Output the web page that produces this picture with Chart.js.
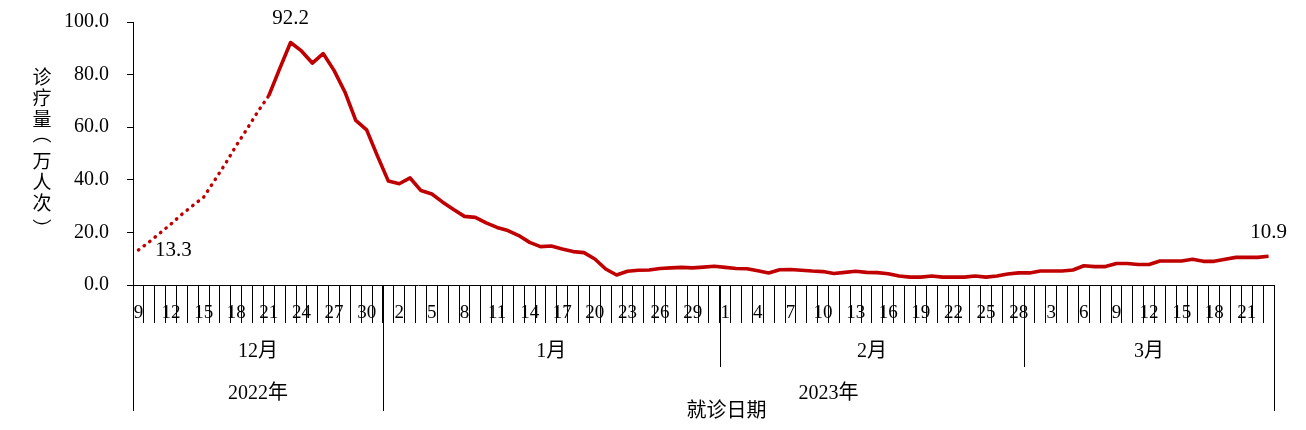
<!DOCTYPE html>
<html>
<head>
<meta charset="utf-8">
<script src="https://cdn.jsdelivr.net/npm/chart.js@4.4.1/dist/chart.umd.min.js"></script>
<style>
  html, body { margin: 0; padding: 0; background: #ffffff; }
  #wrap { width: 1306px; height: 430px; position: relative; }
</style>
</head>
<body>
<div id="wrap"><canvas id="c" width="1306" height="430"></canvas></div>
<script>
// ---------------- data ----------------
const decDays = [9,10,11,12,13,14,15,16,17,18,19,20,21,22,23,24,25,26,27,28,29,30,31];
const janDays = [1,2,3,4,5,6,7,8,9,10,11,12,13,14,15,16,17,18,19,20,21,22,23,24,25,26,27,28,29,30,31];
const febDays = [1,2,3,4,5,6,7,8,9,10,11,12,13,14,15,16,17,18,19,20,21,22,23,24,25,26,27,28];
const marDays = [1,2,3,4,5,6,7,8,9,10,11,12,13,14,15,16,17,18,19,20,21,22,23];

const decValues = [13.3,16.4,19.8,23.2,26.9,30.2,33.4,39.7,46.1,53.0,59.4,66.0,72.0,82.3,92.2,89.0,84.4,88.0,81.6,73.4,62.6,59.0,49.0];
const janValues = [39.5,38.5,40.7,35.9,34.6,31.5,28.7,26.1,25.7,23.6,21.9,20.7,18.8,16.2,14.6,14.8,13.7,12.7,12.3,9.9,6.1,3.8,5.2,5.6,5.7,6.3,6.5,6.7,6.5,6.8,7.1];
const febValues = [6.7,6.3,6.2,5.4,4.6,5.8,5.9,5.6,5.3,5.1,4.4,4.8,5.2,4.8,4.7,4.3,3.4,3.0,3.0,3.4,3.0,3.0,3.0,3.4,3.0,3.4,4.2,4.6];
const marValues = [4.6,5.3,5.3,5.3,5.7,7.3,7.0,7.0,8.2,8.2,7.8,7.8,9.1,9.1,9.1,9.8,9.0,9.0,9.8,10.5,10.5,10.5,10.9];

const monthLabels = ['12月', '1月', '2月', '3月'];
const monthYearIndex = [0, 1, 1, 1];
const yearLabels = ['2022年', '2023年'];
const yTitleText = '诊疗量（万人次）';
const xTitleText = '就诊日期';
const yTicks = [0, 20, 40, 60, 80, 100];
const dottedLastIndex = 12;      // dotted (estimated) part ends at Dec 21
const annotatedIndices = [0, 14, 104];

const monthDays = [decDays, janDays, febDays, marDays];
const categories = [].concat(decDays, janDays, febDays, marDays).map(String);
const values = [].concat(decValues, janValues, febValues, marValues);

// ---------------- style ----------------
const RED = '#C00000';
const SERIF = '"Liberation Serif", "Times New Roman", "Noto Sans CJK SC", serif';
const CJK = '"Noto Sans CJK SC", "Liberation Serif", sans-serif';
const verticalForms = { '（': ['︵', -6], '）': ['︶', 5.5] };

const groupPlugin = {
  id: 'groupAxis',
  afterDraw(chart) {
    const ctx = chart.ctx;
    const xs = chart.scales.x;
    const ys = chart.scales.y;
    const half = (xs.getPixelForValue(1) - xs.getPixelForValue(0)) / 2;
    const axisY = ys.getPixelForValue(0);
    ctx.save();
    ctx.strokeStyle = '#000';
    ctx.lineWidth = 1;
    ctx.fillStyle = '#000';
    ctx.textAlign = 'center';
    ctx.textBaseline = 'middle';

    // months
    let start = 0;
    const monthBounds = [];
    monthDays.forEach((days, m) => {
      const end = start + days.length - 1;
      const left = xs.getPixelForValue(start) - half;
      const right = xs.getPixelForValue(end) + half;
      monthBounds.push([left, right, start, end]);
      ctx.font = '20px ' + SERIF;
      ctx.fillText(monthLabels[m], (left + right) / 2, axisY + 67);
      start = end + 1;
    });
    // years
    yearLabels.forEach((yl, yi) => {
      const ms = monthBounds.filter((b, m) => monthYearIndex[m] === yi);
      const left = ms[0][0];
      const right = ms[ms.length - 1][1];
      ctx.font = '20px ' + SERIF;
      ctx.fillText(yl, (left + right) / 2, axisY + 109);
    });
    // separators
    const line = (x, y0, y1) => {
      const px = Math.round(x) + 0.5;
      ctx.beginPath();
      ctx.moveTo(px, y0);
      ctx.lineTo(px, y1);
      ctx.stroke();
    };
    monthBounds.forEach((b, m) => {
      const isYearStart = m === 0 || monthYearIndex[m] !== monthYearIndex[m - 1];
      line(b[0], axisY, axisY + (isYearStart ? 126 : 82));
    });
    line(monthBounds[monthBounds.length - 1][1], axisY, axisY + 126);

    // x title
    ctx.font = '20px ' + CJK;
    ctx.fillText(xTitleText, (chart.chartArea.left + chart.chartArea.right) / 2 + 23, axisY + 124);

    // y title (stacked characters, vertical layout)
    ctx.font = '19px ' + CJK;
    Array.from(yTitleText).forEach((ch, k) => {
      const vf = verticalForms[ch];
      const y = 76.5 + k * 21;
      if (vf) ctx.fillText(vf[0], 42, y + vf[1]);
      else ctx.fillText(ch, 42, y);
    });

    // value labels
    ctx.font = '21px ' + SERIF;
    annotatedIndices.forEach((i) => {
      const px = xs.getPixelForValue(i);
      const py = ys.getPixelForValue(values[i]);
      let dx = 0, dy = -24;
      if (i === 0) { dx = 35; dy = 0; }
      ctx.fillText(values[i].toFixed(1), px + dx, py + dy);
    });
    ctx.restore();
  }
};

new Chart(document.getElementById('c'), {
  type: 'line',
  data: {
    labels: categories,
    datasets: [{
      data: values,
      borderColor: RED,
      borderWidth: 3.6,
      borderJoinStyle: 'round',
      pointRadius: 0,
      pointHoverRadius: 0,
      tension: 0,
      fill: false,
      segment: {
        borderDash: (c) => c.p1DataIndex <= dottedLastIndex ? [0.5, 6.5] : undefined,
        borderCapStyle: (c) => c.p1DataIndex <= dottedLastIndex ? 'round' : undefined,
        borderWidth: (c) => c.p1DataIndex <= dottedLastIndex ? 3.4 : undefined
      }
    }]
  },
  options: {
    responsive: false,
    animation: false,
    devicePixelRatio: 1,
    layout: { padding: { left: 0, right: 32, top: 22, bottom: 0 } },
    plugins: { legend: { display: false }, tooltip: { enabled: false }, title: { display: false } },
    scales: {
      x: {
        type: 'category',
        offset: true,
        grid: { offset: true, drawOnChartArea: false, drawTicks: true, tickLength: 38, color: '#000', lineWidth: 1 },
        border: { display: true, color: '#000', width: 1 },
        ticks: {
          autoSkip: false,
          maxRotation: 0,
          minRotation: 0,
          padding: -21,
          color: '#000',
          font: { family: SERIF, size: 19 },
          callback: function (v, i) { return i % 3 === 0 ? this.getLabelForValue(v) : ''; }
        },
        afterFit: (s) => { s.height = 145; s.paddingLeft = 0; s.paddingRight = 0; }
      },
      y: {
        min: 0,
        max: 100,
        afterBuildTicks: (s) => { s.ticks = yTicks.map(v => ({ value: v })); },
        grid: { drawOnChartArea: false, drawTicks: true, tickLength: 6, color: '#000', lineWidth: 1 },
        border: { display: true, color: '#000', width: 1 },
        ticks: {
          padding: 18,
          color: '#000',
          font: { family: SERIF, size: 20 },
          callback: (v) => Number(v).toFixed(1)
        },
        afterFit: (s) => { s.width = 133; s.paddingTop = 0; s.paddingBottom = 0; }
      }
    }
  },
  plugins: [groupPlugin]
});
</script>
</body>
</html>
